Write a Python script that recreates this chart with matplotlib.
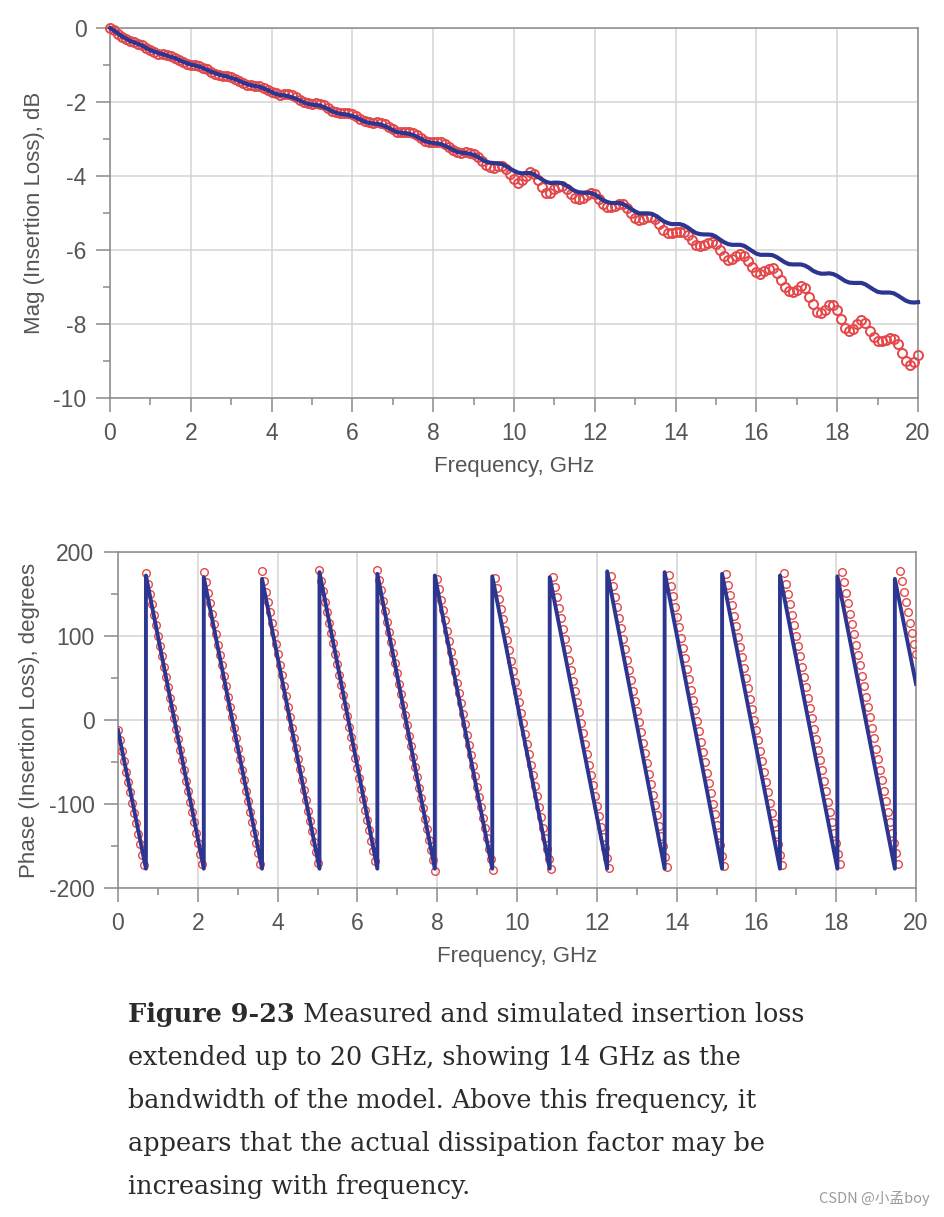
import numpy as np
import matplotlib
matplotlib.use('Agg')
import matplotlib.pyplot as plt
from matplotlib.ticker import MultipleLocator

plt.rcParams['axes.unicode_minus'] = False

# ---- insertion loss magnitude, sampled every 0.1 GHz (0 .. 20 GHz)
f_mag = np.round(np.arange(201) * 0.1, 2)

mag_simulated = [
    0.0, -0.07, -0.15, -0.23, -0.29, -0.35, -0.39, -0.43, -0.48, -0.54, -0.6,
    -0.64, -0.68, -0.71, -0.74, -0.78, -0.81, -0.86, -0.91, -0.95, -0.99,
    -1.01, -1.04, -1.08, -1.13, -1.18, -1.22, -1.26, -1.29, -1.31, -1.35,
    -1.38, -1.43, -1.48, -1.52, -1.55, -1.57, -1.59, -1.63, -1.68, -1.73,
    -1.78, -1.81, -1.82, -1.84, -1.87, -1.91, -1.96, -2.01, -2.05, -2.07,
    -2.08, -2.10, -2.14, -2.19, -2.25, -2.29, -2.32, -2.33, -2.35, -2.38,
    -2.42, -2.48, -2.53, -2.56, -2.58, -2.59, -2.61, -2.65, -2.70, -2.76,
    -2.81, -2.83, -2.84, -2.86, -2.89, -2.94, -3.00, -3.06, -3.09, -3.11,
    -3.12, -3.14, -3.19, -3.24, -3.30, -3.35, -3.37, -3.38, -3.40, -3.43,
    -3.48, -3.55, -3.61, -3.64, -3.65, -3.66, -3.68, -3.73, -3.80, -3.86,
    -3.91, -3.93, -3.92, -3.92, -3.96, -4.03, -4.10, -4.16, -4.19, -4.18,
    -4.18, -4.20, -4.26, -4.33, -4.40, -4.44, -4.45, -4.45, -4.46, -4.50,
    -4.57, -4.65, -4.70, -4.73, -4.73, -4.73, -4.76, -4.82, -4.89, -4.96,
    -5.01, -5.01, -5.01, -5.02, -5.07, -5.14, -5.22, -5.27, -5.30, -5.30,
    -5.30, -5.33, -5.39, -5.47, -5.54, -5.57, -5.58, -5.58, -5.59, -5.64,
    -5.72, -5.79, -5.84, -5.86, -5.86, -5.86, -5.89, -5.96, -6.03, -6.10,
    -6.13, -6.13, -6.13, -6.14, -6.19, -6.26, -6.33, -6.38, -6.39, -6.39,
    -6.39, -6.42, -6.48, -6.56, -6.61, -6.64, -6.64, -6.63, -6.65, -6.70,
    -6.77, -6.84, -6.88, -6.89, -6.89, -6.89, -6.93, -7.00, -7.07, -7.13,
    -7.15, -7.15, -7.15, -7.17, -7.23, -7.30, -7.37, -7.41, -7.42, -7.41,
]

mag_measured = [
    0.0, -0.06, -0.15, -0.23, -0.30, -0.35, -0.39, -0.42, -0.47, -0.53, -0.6,
    -0.65, -0.69, -0.71, -0.74, -0.77, -0.81, -0.86, -0.92, -0.96, -0.99,
    -1.01, -1.03, -1.07, -1.12, -1.18, -1.24, -1.27, -1.29, -1.30, -1.33,
    -1.38, -1.44, -1.49, -1.53, -1.55, -1.57, -1.58, -1.62, -1.68, -1.74,
    -1.77, -1.80, -1.79, -1.79, -1.81, -1.86, -1.94, -2.01, -2.04, -2.05,
    -2.04, -2.05, -2.09, -2.16, -2.23, -2.28, -2.30, -2.30, -2.30, -2.32,
    -2.38, -2.45, -2.52, -2.55, -2.56, -2.55, -2.56, -2.60, -2.67, -2.74,
    -2.81, -2.82, -2.81, -2.80, -2.83, -2.90, -2.98, -3.05, -3.09, -3.08,
    -3.07, -3.08, -3.13, -3.21, -3.29, -3.35, -3.37, -3.36, -3.37, -3.40,
    -3.49, -3.60, -3.70, -3.77, -3.78, -3.74, -3.74, -3.81, -3.95, -4.07,
    -4.18, -4.12, -3.99, -3.90, -3.94, -4.11, -4.31, -4.45, -4.46, -4.36,
    -4.29, -4.27, -4.35, -4.48, -4.59, -4.63, -4.59, -4.50, -4.45, -4.49,
    -4.61, -4.75, -4.84, -4.85, -4.80, -4.75, -4.76, -4.86, -5.00, -5.13,
    -5.19, -5.17, -5.12, -5.11, -5.17, -5.30, -5.45, -5.53, -5.54, -5.50,
    -5.50, -5.52, -5.59, -5.73, -5.86, -5.90, -5.86, -5.80, -5.78, -5.85,
    -5.99, -6.16, -6.26, -6.25, -6.17, -6.11, -6.15, -6.29, -6.46, -6.60,
    -6.64, -6.58, -6.50, -6.49, -6.62, -6.81, -7.00, -7.12, -7.13, -7.08,
    -6.98, -7.04, -7.27, -7.47, -7.67, -7.71, -7.61, -7.48, -7.48, -7.62,
    -7.87, -8.11, -8.19, -8.13, -7.99, -7.89, -7.97, -8.20, -8.35, -8.45,
    -8.45, -8.42, -8.38, -8.40, -8.55, -8.78, -9.00, -9.10, -9.02, -8.83,
]

# ---- phase: simulated trace vertices (wrap points) and measured points every 0.05 GHz
phase_sim_f = [0.0, 0.70, 0.70, 2.15, 2.15, 3.61, 3.61, 5.05, 5.05, 6.50, 6.50,
               7.94, 7.94, 9.38, 9.38, 10.82, 10.82, 12.26, 12.26, 13.70, 13.70,
               15.14, 15.14, 16.59, 16.59, 18.03, 18.03, 19.47, 19.47, 20.0]
phase_sim = [-12, -177, 172, -177, 170, -177, 168, -177, 176, -177, 174,
             -177, 172, -177, 171, -177, 170, -177, 177, -177, 176,
             -177, 174, -177, 172, -177, 171, -177, 168, 43]

f_phase = np.round(np.arange(401) * 0.05, 2)
phase_measured = [
    -12, -24, -37, -49, -62, -74, -86, -99, -111, -123, -136, -148, -161, -173,
    175, 162, 150, 138, 125, 113, 100, 88, 76, 63, 51, 39, 26, 14, 2,
    -11, -23, -36, -48, -60, -73, -85, -98, -110, -122, -135, -147, -159, -172,
    176, 164, 151, 139, 126, 114, 102, 89, 77, 65, 52, 40, 27, 15, 3,
    -10, -22, -35, -47, -59, -72, -84, -96, -109, -121, -134, -146, -158, -171,
    177, 165, 152, 140, 128, 115, 103, 90, 78, 66, 53, 41, 29, 16, 4,
    -9, -21, -33, -46, -58, -71, -83, -95, -108, -120, -132, -145, -157, -170,
    178, 166, 153, 141, 129, 116, 104, 92, 79, 67, 54, 42, 30, 17, 5,
    -8, -20, -32, -45, -57, -69, -82, -94, -107, -119, -131, -144, -156, -168,
    179, 167, 155, 142, 130, 117, 105, 93, 80, 68, 56, 43, 31, 18, 6,
    -6, -19, -31, -44, -56, -68, -81, -93, -105, -118, -130, -143, -155, -167, -180,
    168, 156, 143, 131, 119, 106, 94, 81, 69, 57, 44, 32, 20, 7,
    -5, -18, -30, -42, -55, -67, -80, -92, -104, -117, -129, -141, -154, -166, -179,
    169, 157, 144, 132, 120, 107, 95, 83, 70, 58, 45, 33, 21, 8,
    -4, -17, -29, -41, -54, -66, -78, -91, -103, -116, -128, -140, -153, -165, -177,
    170, 158, 146, 133, 121, 108, 96, 84, 71, 59, 47, 34, 22, 9,
    -3, -15, -28, -40, -53, -65, -77, -90, -102, -114, -127, -139, -152, -164, -176,
    171, 159, 147, 134, 122, 110, 97, 85, 72, 60, 48, 35, 23, 11,
    -2, -14, -27, -39, -51, -64, -76, -89, -101, -113, -126, -138, -150, -163, -175,
    173, 160, 148, 135, 123, 111, 98, 86, 74, 61, 49, 36, 24, 12,
    -1, -13, -26, -38, -50, -63, -75, -87, -100, -112, -125, -137, -149, -162, -174,
    174, 161, 149, 137, 124, 112, 99, 87, 75, 62, 50, 38, 25, 13, 0,
    -12, -24, -37, -49, -62, -74, -86, -99, -111, -123, -136, -148, -161, -173,
    175, 162, 150, 138, 125, 113, 100, 88, 76, 63, 51, 39, 26, 14, 2,
    -11, -23, -36, -48, -60, -73, -85, -98, -110, -122, -135, -147, -159, -172,
    176, 164, 151, 139, 126, 114, 102, 89, 77, 65, 52, 40, 27, 15, 3,
    -10, -22, -35, -47, -59, -72, -84, -96, -109, -121, -134, -146, -158, -171,
    177, 165, 152, 140, 128, 115, 103, 90, 78,
]

caption_bold = 'Figure 9-23'
caption_lines = [
    ' Measured and simulated insertion loss',
    'extended up to 20 GHz, showing 14 GHz as the',
    'bandwidth of the model. Above this frequency, it',
    'appears that the actual dissipation factor may be',
    'increasing with frequency.',
]
watermark = 'CSDN @小孟boy'

BLUE = '#2c3590'
RED = '#e5484a'
GRID = '#d4d4d4'
SPINE = '#8a8a8a'
LABEL = '#555555'
tick_font = ['Liberation Sans Narrow', 'Liberation Sans', 'DejaVu Sans']

W, H = 944, 1217
fig = plt.figure(figsize=(W / 100, H / 100), dpi=100)


def style_axes(ax, xlabel, ylabel):
    ax.set_xlim(0, 20)
    ax.xaxis.set_major_locator(MultipleLocator(2))
    ax.xaxis.set_minor_locator(MultipleLocator(1))
    ax.grid(True, which='major', color=GRID, lw=1.1)
    ax.set_axisbelow(True)
    for s in ax.spines.values():
        s.set_color(SPINE)
        s.set_linewidth(1.1)
    ax.tick_params(which='major', length=10, width=1.1, color=SPINE,
                   labelcolor=LABEL, pad=7)
    ax.tick_params(which='minor', length=5, width=1.1, color=SPINE)
    for lab in ax.get_xticklabels() + ax.get_yticklabels():
        lab.set_family(tick_font)
        lab.set_fontsize(16.5)
    ax.set_xlabel(xlabel, family=tick_font, fontsize=16, color=LABEL, labelpad=8)
    ax.set_ylabel(ylabel, family=tick_font, fontsize=16, color=LABEL, labelpad=6)


# ---- magnitude plot
ax1 = fig.add_axes([110 / W, 1 - 398 / H, 808 / W, 370 / H])
ax1.set_ylim(-10, 0)
ax1.yaxis.set_major_locator(MultipleLocator(2))
ax1.yaxis.set_minor_locator(MultipleLocator(1))
ax1.plot(f_mag, mag_measured, ls='none', marker='o', ms=6.5, mfc='none',
         mec=RED, mew=1.4, clip_on=False, zorder=3)
ax1.plot(f_mag, mag_simulated, color=BLUE, lw=3.0, zorder=4, clip_on=False)
style_axes(ax1, 'Frequency, GHz', 'Mag (Insertion Loss), dB')

# ---- phase plot
ax2 = fig.add_axes([118 / W, 1 - 888 / H, 798 / W, 336 / H])
ax2.set_ylim(-200, 200)
ax2.yaxis.set_major_locator(MultipleLocator(100))
ax2.yaxis.set_minor_locator(MultipleLocator(50))
ax2.plot(f_phase, phase_measured, ls='none', marker='o', ms=5.5, mfc='none',
         mec=RED, mew=1.0, zorder=3)
ax2.plot(phase_sim_f, phase_sim, color=BLUE, lw=2.8, zorder=4)
style_axes(ax2, 'Frequency, GHz', 'Phase (Insertion Loss), degrees')

# ---- caption
renderer = fig.canvas.get_renderer()
cap_kw = dict(family='DejaVu Serif', fontsize=18.4, color='#2b2b2b', va='baseline')
x0 = 128 / W
base_y = [1022, 1065, 1108, 1151, 1194]
t = fig.text(x0, 1 - base_y[0] / H, caption_bold, fontweight='bold', **cap_kw)
bb = t.get_window_extent(renderer)
x_after = bb.x1 / fig.bbox.width
fig.text(x_after, 1 - base_y[0] / H, caption_lines[0], **cap_kw)
for line, y in zip(caption_lines[1:], base_y[1:]):
    fig.text(x0, 1 - y / H, line, **cap_kw)

fig.text(930 / W, 1 - 1198 / H, watermark, ha='right', va='center',
         family=['Noto Sans CJK SC', 'DejaVu Sans'], fontsize=10.5, color='#9a9a9a')

fig.savefig('out.png', dpi=100)
plt.close(fig)
